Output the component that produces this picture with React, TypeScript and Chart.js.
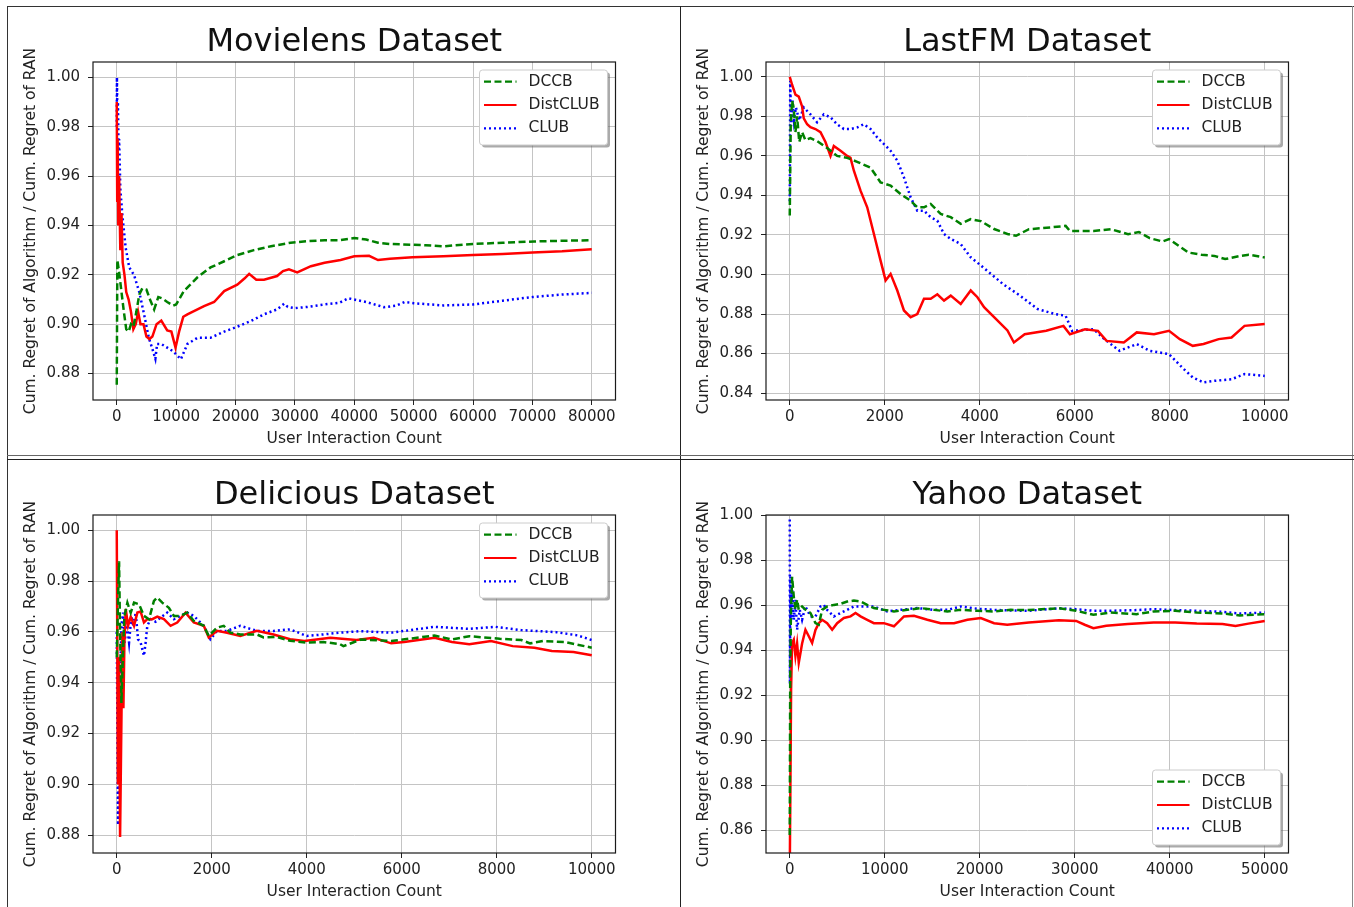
import React, { useEffect, useRef } from 'react';
import { Chart, registerables } from 'chart.js';

Chart.register(...registerables);

const FONT = '"DejaVu Sans", "Liberation Sans", sans-serif';
Chart.defaults.font.family = FONT;

// ---------- shared labels ----------
const seriesLabels = ['DCCB', 'DistCLUB', 'CLUB'];
const xAxisTitle = 'User Interaction Count';
const yAxisTitle = 'Cum. Regret of Algorithm / Cum. Regret of RAN';

// ---------- Movielens ----------
const movielensXTicks = [0, 10000, 20000, 30000, 40000, 50000, 60000, 70000, 80000];
const movielensYTicks = [0.88, 0.9, 0.92, 0.94, 0.96, 0.98, 1.0];
const movielensDccbX = [0, 100, 400, 800, 1200, 1600, 2000, 2400, 2800, 3300, 3800, 4300, 5000, 5600, 6300, 7000, 7600, 8500, 9500, 10000, 11300, 13600, 15800, 18100, 20300, 23100, 26000, 29300, 32100, 35000, 37500, 40000, 42000, 44000, 46000, 49800, 52000, 55000, 57000, 60000, 65000, 70300, 75000, 80000];
const movielensDccbY = [0.8755, 0.926, 0.921, 0.913, 0.905, 0.898, 0.897, 0.9, 0.899, 0.905, 0.912, 0.9145, 0.914, 0.91, 0.906, 0.911, 0.9105, 0.909, 0.9075, 0.908, 0.9134, 0.919, 0.923, 0.9255, 0.928, 0.93, 0.9316, 0.933, 0.9336, 0.934, 0.934, 0.9349, 0.9343, 0.933, 0.9325, 0.9322, 0.932, 0.9315, 0.932, 0.9325, 0.933, 0.9335, 0.9338, 0.934];
const movielensDistX = [0, 80, 150, 250, 400, 600, 800, 1000, 1300, 1600, 2000, 2400, 2800, 3200, 3600, 4000, 4500, 5000, 5500, 6000, 6700, 7500, 8500, 9200, 9900, 10500, 11200, 11900, 13000, 14700, 16400, 18100, 20300, 21500, 22300, 23500, 24800, 27000, 28000, 29000, 30400, 32700, 35000, 37700, 40000, 42500, 44000, 46000, 49800, 55000, 60000, 65000, 70000, 75000, 80000];
const movielensDistY = [0.99, 0.95, 0.975, 0.94, 0.96, 0.93, 0.945, 0.925, 0.92, 0.913, 0.91, 0.905, 0.898, 0.9, 0.905, 0.9, 0.9, 0.895, 0.894, 0.895, 0.9, 0.9015, 0.8975, 0.897, 0.8905, 0.897, 0.903, 0.904, 0.9053, 0.9073, 0.909, 0.9134, 0.916, 0.9185, 0.9204, 0.918, 0.918, 0.9195, 0.9215, 0.9222, 0.921, 0.9235, 0.9249, 0.926, 0.9275, 0.9277, 0.926, 0.9265, 0.9271, 0.9275, 0.928, 0.9284, 0.929, 0.9295, 0.9304];
const movielensClubX = [0, 30, 100, 200, 300, 400, 600, 950, 1500, 2100, 2900, 3800, 4600, 5400, 6000, 6500, 6800, 7500, 8500, 9500, 10800, 11900, 13600, 15800, 18100, 20300, 22600, 24800, 27000, 28200, 28800, 30000, 32100, 35000, 37500, 39000, 42000, 45000, 47000, 48500, 50000, 55000, 60000, 65000, 70000, 75000, 80000];
const movielensClubY = [0.98, 1.0, 0.985, 0.99, 0.97, 0.975, 0.955, 0.944, 0.931, 0.923, 0.92, 0.913, 0.904, 0.8945, 0.89, 0.886, 0.892, 0.892, 0.8905, 0.889, 0.8858, 0.892, 0.8945, 0.8945, 0.897, 0.899, 0.9013, 0.904, 0.906, 0.9083, 0.907, 0.9065, 0.907, 0.908, 0.9087, 0.9105, 0.909, 0.9069, 0.9075, 0.909, 0.9085, 0.9076, 0.908, 0.9095, 0.911, 0.912, 0.9127];

// ---------- LastFM ----------
const lastfmXTicks = [0, 2000, 4000, 6000, 8000, 10000];
const lastfmYTicks = [0.84, 0.86, 0.88, 0.9, 0.92, 0.94, 0.96, 0.98, 1.0];
const lastfmDccbX = [0, 20, 49, 84, 120, 155, 200, 260, 330, 436, 576, 787, 998, 1209, 1420, 1701, 1912, 2123, 2334, 2545, 2685, 2826, 2967, 3178, 3389, 3599, 3810, 4021, 4302, 4583, 4764, 5036, 5490, 5808, 5898, 6397, 6760, 7123, 7350, 7577, 7849, 7985, 8394, 8666, 8938, 9165, 9483, 9664, 10000];
const lastfmDccbY = [0.9298, 0.975, 0.988, 0.984, 0.972, 0.98, 0.967, 0.972, 0.968, 0.969, 0.9675, 0.964, 0.96, 0.959, 0.957, 0.954, 0.9466, 0.945, 0.9407, 0.9373, 0.934, 0.934, 0.9357, 0.9306, 0.929, 0.9256, 0.928, 0.927, 0.923, 0.9205, 0.9196, 0.9229, 0.9238, 0.9246, 0.922, 0.922, 0.9229, 0.9204, 0.9215, 0.9184, 0.9167, 0.9179, 0.9111, 0.91, 0.9094, 0.9078, 0.9094, 0.91, 0.9086];
const lastfmDistX = [0, 49, 120, 190, 260, 295, 366, 436, 541, 647, 752, 858, 928, 1069, 1209, 1279, 1350, 1490, 1631, 1772, 1912, 2018, 2123, 2264, 2404, 2545, 2685, 2826, 2967, 3107, 3248, 3389, 3599, 3810, 3951, 4091, 4302, 4583, 4719, 4946, 5399, 5762, 5898, 6216, 6488, 6670, 7033, 7305, 7668, 7985, 8212, 8485, 8711, 9029, 9301, 9574, 10000];
const lastfmDistY = [1.0, 0.996, 0.991, 0.99, 0.985, 0.979, 0.976, 0.9745, 0.9736, 0.972, 0.967, 0.96, 0.965, 0.9626, 0.96, 0.959, 0.9525, 0.9424, 0.934, 0.9205, 0.907, 0.897, 0.9003, 0.8919, 0.8818, 0.8784, 0.88, 0.8877, 0.8877, 0.89, 0.8868, 0.8893, 0.8851, 0.8919, 0.8885, 0.8835, 0.8784, 0.8717, 0.8656, 0.8698, 0.8715, 0.874, 0.8698, 0.8723, 0.8715, 0.8664, 0.8656, 0.8707, 0.8698, 0.8715, 0.8673, 0.8639, 0.8648, 0.8673, 0.8681, 0.874, 0.8749];
const lastfmClubX = [0, 10, 30, 60, 90, 130, 200, 295, 436, 576, 717, 858, 998, 1139, 1279, 1420, 1560, 1701, 1842, 1982, 2123, 2264, 2404, 2545, 2685, 2826, 2967, 3107, 3248, 3389, 3599, 3810, 4000, 4300, 4492, 4855, 5218, 5581, 5808, 5944, 6397, 6624, 6942, 7305, 7577, 7985, 8258, 8485, 8711, 8938, 9301, 9574, 10000];
const lastfmClubY = [0.937, 0.998, 0.975, 0.988, 0.978, 0.9845, 0.978, 0.9845, 0.981, 0.977, 0.981, 0.9795, 0.976, 0.9736, 0.9736, 0.9744, 0.976, 0.9736, 0.9693, 0.966, 0.9626, 0.9576, 0.9491, 0.939, 0.9323, 0.9323, 0.929, 0.9272, 0.9205, 0.918, 0.9154, 0.9087, 0.905, 0.899, 0.8951, 0.8892, 0.8825, 0.88, 0.8791, 0.8715, 0.8723, 0.8673, 0.8614, 0.8648, 0.8614, 0.8597, 0.853, 0.8479, 0.8454, 0.8462, 0.847, 0.8496, 0.8487];

// ---------- Delicious ----------
const deliciousXTicks = [0, 2000, 4000, 6000, 8000, 10000];
const deliciousYTicks = [0.88, 0.9, 0.92, 0.94, 0.96, 0.98, 1.0];
const deliciousDccbX = [0, 30, 49, 70, 98, 133, 160, 224, 294, 364, 469, 573, 678, 783, 853, 958, 1098, 1203, 1343, 1483, 1622, 1832, 1937, 2112, 2252, 2392, 2601, 2951, 3091, 3371, 3650, 4000, 4350, 4699, 4771, 5137, 5777, 6691, 7057, 7422, 8062, 8519, 8702, 8976, 9433, 10000];
const deliciousDccbY = [0.95, 0.975, 0.9878, 0.96, 0.932, 0.953, 0.966, 0.9715, 0.9675, 0.9715, 0.9709, 0.9663, 0.965, 0.9722, 0.9735, 0.9715, 0.9695, 0.9663, 0.9663, 0.9676, 0.9643, 0.9624, 0.9584, 0.9617, 0.9624, 0.9597, 0.959, 0.959, 0.9578, 0.958, 0.9565, 0.9558, 0.956, 0.9552, 0.9544, 0.957, 0.9564, 0.9586, 0.957, 0.9583, 0.9573, 0.9568, 0.9555, 0.9564, 0.956, 0.9538];
const deliciousDistX = [0, 25, 45, 70, 95, 120, 140, 160, 189, 238, 294, 364, 434, 503, 573, 643, 748, 853, 993, 1133, 1273, 1448, 1622, 1832, 1937, 2112, 2322, 2601, 2951, 3301, 3650, 3949, 4497, 5046, 5411, 5777, 6051, 6691, 7057, 7422, 7879, 8336, 8793, 9159, 9616, 10000];
const deliciousDistY = [1.0, 0.9, 0.95, 0.8793, 0.92, 0.96, 0.93, 0.955, 0.969, 0.9624, 0.966, 0.9624, 0.9676, 0.968, 0.9637, 0.965, 0.965, 0.966, 0.965, 0.9624, 0.9637, 0.9676, 0.9637, 0.9624, 0.9578, 0.9604, 0.9597, 0.9584, 0.9604, 0.959, 0.9571, 0.9564, 0.9577, 0.9568, 0.9577, 0.9555, 0.956, 0.9577, 0.956, 0.9551, 0.9564, 0.9544, 0.9538, 0.9525, 0.9521, 0.9508];
const deliciousClubX = [0, 28, 50, 70, 98, 133, 168, 210, 259, 308, 350, 399, 448, 503, 573, 608, 643, 713, 818, 923, 1063, 1203, 1343, 1483, 1622, 1832, 1972, 2112, 2322, 2601, 2951, 3301, 3650, 4000, 4350, 4699, 5137, 5777, 6691, 7422, 7971, 8519, 9250, 9707, 10000];
const deliciousClubY = [0.96, 0.884, 0.92, 0.94, 0.9624, 0.9676, 0.9558, 0.9637, 0.9558, 0.9663, 0.962, 0.9676, 0.9571, 0.9558, 0.9506, 0.9558, 0.9624, 0.965, 0.964, 0.9656, 0.9676, 0.965, 0.9663, 0.9676, 0.9663, 0.9624, 0.9571, 0.9604, 0.9604, 0.9624, 0.9604, 0.9604, 0.961, 0.9584, 0.959, 0.9597, 0.9603, 0.9597, 0.962, 0.9612, 0.962, 0.9607, 0.9599, 0.9586, 0.9568];

// ---------- Yahoo ----------
const yahooXTicks = [0, 10000, 20000, 30000, 40000, 50000];
const yahooYTicks = [0.86, 0.88, 0.9, 0.92, 0.94, 0.96, 0.98, 1.0];
const yahooDccbX = [0, 50, 120, 246, 422, 598, 773, 949, 1300, 1652, 2179, 2707, 3058, 3410, 3937, 4640, 5343, 6046, 6749, 7452, 8155, 8858, 9912, 10967, 12373, 13779, 15185, 16591, 17997, 19754, 21512, 23269, 25160, 28330, 30150, 31960, 33770, 36490, 38300, 40570, 42840, 45560, 47370, 50000];
const yahooDccbY = [0.858, 0.93, 0.955, 0.9726, 0.9638, 0.958, 0.9624, 0.9579, 0.9594, 0.958, 0.9565, 0.952, 0.9513, 0.9579, 0.9594, 0.9601, 0.9606, 0.9616, 0.962, 0.9616, 0.9601, 0.9587, 0.9579, 0.9572, 0.9579, 0.9587, 0.9579, 0.9572, 0.9579, 0.9575, 0.9572, 0.9579, 0.9578, 0.9586, 0.9575, 0.9557, 0.9567, 0.956, 0.9572, 0.9575, 0.9567, 0.9563, 0.9554, 0.956];
const yahooDistX = [0, 141, 246, 422, 598, 773, 949, 1300, 1652, 2004, 2355, 2707, 3058, 3410, 3937, 4464, 4991, 5694, 6397, 6924, 7452, 8155, 8858, 9912, 10967, 12022, 13076, 14482, 15888, 17294, 18700, 20106, 21512, 22890, 25160, 28330, 30150, 31050, 31960, 33320, 35580, 38300, 40570, 42840, 45560, 46920, 48280, 50000];
const yahooDistY = [0.84, 0.9226, 0.9432, 0.9447, 0.9374, 0.943, 0.9344, 0.943, 0.9491, 0.9462, 0.9432, 0.949, 0.952, 0.9535, 0.952, 0.9491, 0.952, 0.9543, 0.955, 0.9565, 0.955, 0.9535, 0.952, 0.952, 0.9506, 0.955, 0.9553, 0.9535, 0.952, 0.952, 0.9535, 0.9543, 0.952, 0.9513, 0.9523, 0.9533, 0.953, 0.9513, 0.9498, 0.9508, 0.9516, 0.9523, 0.9523, 0.9518, 0.9516, 0.9508, 0.9518, 0.953];
const yahooClubX = [0, 20, 70, 141, 246, 422, 598, 773, 1055, 1300, 1652, 2179, 2707, 3234, 3585, 3937, 4640, 5343, 6046, 6749, 7452, 8858, 10264, 11670, 13428, 15185, 16591, 17997, 19754, 21512, 23269, 25160, 28330, 30150, 31960, 33770, 36490, 38300, 40570, 42840, 45560, 47370, 50000];
const yahooClubY = [0.998, 0.925, 0.9726, 0.9535, 0.9668, 0.9535, 0.9624, 0.9491, 0.9579, 0.9535, 0.9594, 0.955, 0.955, 0.9594, 0.9601, 0.9579, 0.955, 0.9565, 0.9579, 0.9594, 0.9594, 0.9594, 0.9572, 0.9579, 0.9587, 0.9579, 0.9579, 0.9594, 0.9584, 0.9579, 0.9576, 0.9575, 0.9586, 0.9582, 0.9575, 0.9575, 0.9578, 0.9582, 0.9578, 0.9575, 0.957, 0.9563, 0.9567];

// ---------- styling ----------
const seriesColors = ['#008000', '#ff0000', '#0000ff'];
const seriesDash = [[7, 3.5], [], [2, 3]];

type PanelSpec = {
  title: string;
  left: number;
  top: number;
  xRange: [number, number];
  yRange: [number, number];
  xTicks: number[];
  yTicks: number[];
  xs: number[][];
  ys: number[][];
  legendPos: 'upper' | 'lower';
};

const CANVAS_W = 672;
const CANVAS_H = 448;

function roundRect(ctx: CanvasRenderingContext2D, x: number, y: number, w: number, h: number, r: number) {
  ctx.beginPath();
  ctx.moveTo(x + r, y);
  ctx.lineTo(x + w - r, y);
  ctx.arcTo(x + w, y, x + w, y + r, r);
  ctx.lineTo(x + w, y + h - r);
  ctx.arcTo(x + w, y + h, x + w - r, y + h, r);
  ctx.lineTo(x + r, y + h);
  ctx.arcTo(x, y + h, x, y + h - r, r);
  ctx.lineTo(x, y + r);
  ctx.arcTo(x, y, x + r, y, r);
  ctx.closePath();
}

const decorPlugin = {
  id: 'decor',
  afterDraw(chart: any, _args: any, opts: any) {
    const { ctx, chartArea: a } = chart;
    // frame
    ctx.save();
    ctx.strokeStyle = '#1a1a1a';
    ctx.lineWidth = 1.2;
    ctx.strokeRect(a.left, a.top, a.right - a.left, a.bottom - a.top);
    ctx.restore();

    // y axis title
    ctx.save();
    ctx.translate(22.6, (a.top + a.bottom) / 2);
    ctx.rotate(-Math.PI / 2);
    ctx.font = `15.5px ${FONT}`;
    ctx.fillStyle = '#222';
    ctx.textAlign = 'center';
    ctx.textBaseline = 'middle';
    ctx.fillText(yAxisTitle, 0, 0);
    ctx.restore();

    // legend
    const w = 128;
    const h = 75;
    const bx = a.right - 8 - w;
    const by = opts.legendPos === 'upper' ? a.top + 8 : a.bottom - 8 - h;
    ctx.save();
    roundRect(ctx, bx + 2.5, by + 2.5, w, h, 3);
    ctx.fillStyle = 'rgba(100,100,100,0.55)';
    ctx.fill();
    roundRect(ctx, bx, by, w, h, 3);
    ctx.fillStyle = '#ffffff';
    ctx.fill();
    ctx.strokeStyle = '#cccccc';
    ctx.lineWidth = 1;
    ctx.stroke();
    chart.data.datasets.forEach((ds: any, i: number) => {
      const ry = by + 11.7 + i * 23.3;
      ctx.beginPath();
      ctx.setLineDash(ds.borderDash || []);
      ctx.strokeStyle = ds.borderColor;
      ctx.lineWidth = 2.2;
      ctx.moveTo(bx + 4.5, ry);
      ctx.lineTo(bx + 37, ry);
      ctx.stroke();
      ctx.setLineDash([]);
      ctx.font = `15.5px ${FONT}`;
      ctx.fillStyle = '#222';
      ctx.textAlign = 'left';
      ctx.textBaseline = 'middle';
      ctx.fillText(ds.label, bx + 49, ry);
    });
    ctx.restore();
  },
};

function Panel({ spec }: { spec: PanelSpec }) {
  const ref = useRef<HTMLCanvasElement | null>(null);
  useEffect(() => {
    if (!ref.current) return;
    const tickFont = { family: FONT, size: 15 };
    const gridOpts = { color: '#c4c4c4', lineWidth: 1, tickColor: '#222', tickLength: 5, drawTicks: true };
    const chart = new Chart(ref.current, {
      type: 'line',
      data: {
        datasets: seriesLabels.map((label, i) => ({
          label,
          data: spec.xs[i].map((x, j) => ({ x, y: spec.ys[i][j] })),
          borderColor: seriesColors[i],
          backgroundColor: seriesColors[i],
          borderDash: seriesDash[i],
          borderWidth: 2.5,
          pointRadius: 0,
          tension: 0,
          fill: false,
        })),
      },
      options: {
        animation: false,
        responsive: false,
        maintainAspectRatio: false,
        events: [],
        layout: { padding: { left: 0, right: 64.5, top: 19.6, bottom: 7 } },
        plugins: {
          legend: { display: false },
          tooltip: { enabled: false },
          title: {
            display: true,
            text: spec.title,
            fullSize: false,
            color: '#111',
            font: { family: FONT, size: 32, weight: 'normal', lineHeight: 1 },
            padding: { top: 0, bottom: 3.4 },
          },
          decor: { legendPos: spec.legendPos },
        } as any,
        scales: {
          x: {
            type: 'linear',
            min: spec.xRange[0],
            max: spec.xRange[1],
            afterBuildTicks: (s: any) => {
              s.ticks = spec.xTicks.map((v) => ({ value: v }));
            },
            afterFit: (s: any) => {
              s.height = 48;
            },
            grid: gridOpts,
            border: { display: false },
            ticks: {
              font: tickFont,
              color: '#222',
              padding: 3.5,
              maxRotation: 0,
              autoSkip: false,
              callback: (v: any) => String(v),
            },
            title: {
              display: true,
              text: xAxisTitle,
              color: '#222',
              font: { family: FONT, size: 15.5, lineHeight: 1.2 },
              padding: 0,
            },
          },
          y: {
            type: 'linear',
            min: spec.yRange[0],
            max: spec.yRange[1],
            afterBuildTicks: (s: any) => {
              s.ticks = spec.yTicks.map((v) => ({ value: v }));
            },
            afterFit: (s: any) => {
              s.width = 85;
            },
            grid: gridOpts,
            border: { display: false },
            ticks: {
              font: tickFont,
              color: '#222',
              padding: 8,
              autoSkip: false,
              callback: (v: any) => Number(v).toFixed(2),
            },
          },
        },
      } as any,
      plugins: [decorPlugin as any],
    });
    return () => chart.destroy();
  }, [spec]);
  return (
    <canvas
      ref={ref}
      width={CANVAS_W}
      height={CANVAS_H}
      style={{ position: 'absolute', left: spec.left, top: spec.top, width: CANVAS_W, height: CANVAS_H, display: 'block' }}
    />
  );
}

const panels: PanelSpec[] = [
  {
    title: 'Movielens Dataset',
    left: 8,
    top: 7,
    xRange: [-4000, 84000],
    yRange: [0.8693, 1.0062],
    xTicks: movielensXTicks,
    yTicks: movielensYTicks,
    xs: [movielensDccbX, movielensDistX, movielensClubX],
    ys: [movielensDccbY, movielensDistY, movielensClubY],
    legendPos: 'upper',
  },
  {
    title: 'LastFM Dataset',
    left: 681,
    top: 7,
    xRange: [-500, 10500],
    yRange: [0.8365, 1.0075],
    xTicks: lastfmXTicks,
    yTicks: lastfmYTicks,
    xs: [lastfmDccbX, lastfmDistX, lastfmClubX],
    ys: [lastfmDccbY, lastfmDistY, lastfmClubY],
    legendPos: 'upper',
  },
  {
    title: 'Delicious Dataset',
    left: 8,
    top: 460,
    xRange: [-500, 10500],
    yRange: [0.873, 1.006],
    xTicks: deliciousXTicks,
    yTicks: deliciousYTicks,
    xs: [deliciousDccbX, deliciousDistX, deliciousClubX],
    ys: [deliciousDccbY, deliciousDistY, deliciousClubY],
    legendPos: 'upper',
  },
  {
    title: 'Yahoo Dataset',
    left: 681,
    top: 460,
    xRange: [-2500, 52500],
    yRange: [0.85, 1.0],
    xTicks: yahooXTicks,
    yTicks: yahooYTicks,
    xs: [yahooDccbX, yahooDistX, yahooClubX],
    ys: [yahooDccbY, yahooDistY, yahooClubY],
    legendPos: 'lower',
  },
];

const line = (left: number, top: number, width: number, height: number, color: string) => (
  <div style={{ position: 'absolute', left, top, width, height, background: color }} />
);

export default function App() {
  return (
    <div
      style={{
        position: 'absolute',
        left: 0,
        top: 0,
        width: 1354,
        height: 907,
        overflow: 'hidden',
        background: '#ffffff',
      }}
    >
      {panels.map((p) => (
        <Panel key={p.title} spec={p} />
      ))}
      {line(7, 6, 1347, 1, '#333')}
      {line(7, 6, 1, 901, '#333')}
      {line(680, 6, 1, 901, '#222')}
      {line(1352, 6, 1, 901, '#888')}
      {line(7, 455, 1347, 1, '#666')}
      {line(7, 459, 1347, 1, '#222')}
    </div>
  );
}
